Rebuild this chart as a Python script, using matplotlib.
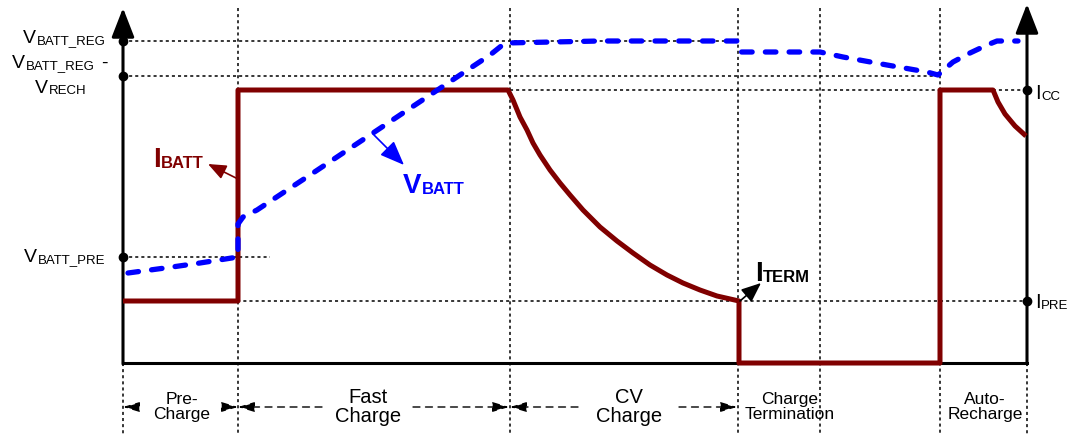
import matplotlib
matplotlib.use('Agg')
import matplotlib.pyplot as plt

plt.rcParams['font.family'] = ['Liberation Sans', 'DejaVu Sans']

# 1. Data (pixel-like units: x = time, y = level, 0 at top) #####################

X_LEFT, X_RIGHT, Y_BASE = 123, 1027, 363
phase_edges = [238, 510, 738, 820, 940]

V_REG, V_RECH, V_PRE = 41, 76, 257
I_CC, I_PRE = 90, 301

# charge current
i_batt_x = [123, 238, 238, 508, 513, 520, 527, 533, 540, 550, 560, 570,
            583, 600, 617, 633, 650, 667, 683, 700, 717, 739,
            739, 940, 940, 993, 998, 1005, 1015, 1026]
i_batt_y = [301, 301, 90, 90, 100, 117, 130, 143, 155, 170, 183, 195,
            210, 227, 241, 253, 265, 275, 283, 290, 296, 301,
            363, 363, 90, 90, 102, 114, 126, 136]

# battery voltage
v_batt_x = [128, 165, 200, 238, 238, 243, 257, 313, 370, 430, 463, 490,
            505, 600, 737, 740, 820, 843, 887, 927, 938, 953, 970, 987,
            997, 1018]
v_batt_y = [273, 268, 263, 257, 224, 217, 210, 173, 135, 95, 73, 55,
            43, 41, 41, 52, 52, 57, 65, 72, 75, 62, 53, 45, 41, 41]

phase_names = ["Pre-\nCharge", "Fast\nCharge", "CV\nCharge",
               "Charge\nTermination", "Auto-\nRecharge"]
phase_centers = [182, 368, 629, 790, 985]
phase_sizes = [12.5, 14.5, 14.5, 12.5, 12.5]

# phase span arrows (tail -> tip)
span_from = [137, 225, 322, 413, 578, 679]
span_to = [123, 238, 238, 509, 510, 737]
Y_SPAN = 407

RED = '#800000'
BLUE = '#0000ff'

# 2. Figure ####################################################################

fig = plt.figure(figsize=(10.67, 4.34), dpi=100)
ax = fig.add_axes([0, 0, 1, 1])
ax.set_xlim(0, 1067)
ax.set_ylim(434, 0)
ax.axis('off')

dot = dict(color='k', lw=1.1, linestyle=(0, (2, 2)), zorder=1)

## - reference lines -----------------------------------------------------------
for y, x0, x1 in [(V_REG, X_LEFT, 738), (V_RECH, X_LEFT, 940),
                  (I_CC, 510, X_RIGHT), (V_PRE, X_LEFT, 270),
                  (I_PRE, 225, X_RIGHT)]:
    ax.plot([x0, x1], [y, y], **dot)
for x in phase_edges:
    ax.plot([x, x], [8, 434], **dot)
for x in [X_LEFT, X_RIGHT]:
    ax.plot([x, x], [Y_BASE, 434], **dot)

## - axes ----------------------------------------------------------------------
for x, tip in [(X_LEFT, 8), (X_RIGHT, 4)]:
    ax.annotate('', xy=(x, tip), xytext=(x, Y_BASE + 1),
                arrowprops=dict(arrowstyle='-|>,head_length=1.8,head_width=0.7',
                                lw=2.2, color='k', shrinkA=0, shrinkB=0,
                                mutation_scale=10), zorder=2)
ax.plot([X_LEFT, X_RIGHT], [Y_BASE, Y_BASE], color='k', lw=2.2,
        solid_capstyle='projecting', zorder=2)

## - curves --------------------------------------------------------------------
ax.plot(i_batt_x, i_batt_y, color=RED, lw=3.6, solid_joinstyle='round',
        solid_capstyle='butt', zorder=3)
ax.plot(v_batt_x, v_batt_y, color=BLUE, lw=3.8, dashes=(2.0, 2.5),
        dash_capstyle='round', zorder=4)

ax.plot([X_LEFT] * 3, [V_REG, V_RECH, V_PRE], 'o', ms=6, color='k', zorder=5)
ax.plot([X_RIGHT] * 2, [I_CC, I_PRE], 'o', ms=6, color='k', zorder=5)


## - labels --------------------------------------------------------------------
def sub_label(x, y, main, sub, size, sub_size, drop=0.15, **kw):
    t = ax.text(x, y, main, fontsize=size, ha='left', va='baseline', **kw)
    ax.annotate(sub, xy=(1, 0), xycoords=t, xytext=(0.3, drop * size),
                textcoords='offset points', fontsize=sub_size, ha='left',
                va='baseline', **kw)


sub_label(23, 43, 'V', 'BATT_REG', 14, 9.5)
sub_label(12, 68, 'V', 'BATT_REG', 14, 9.5)
ax.text(101, 68, '-', fontsize=14, ha='left', va='baseline')
sub_label(35, 93, 'V', 'RECH', 14, 9.5)
sub_label(24, 262, 'V', 'BATT_PRE', 14, 9.5)
sub_label(1035, 99, 'I', 'CC', 14.5, 9.5)
sub_label(1035, 308, 'I', 'PRE', 14.5, 9.5)

sub_label(153, 167, 'I', 'BATT', 20, 12, drop=0.19, color=RED,
          fontweight='bold')
sub_label(403, 193, 'V', 'BATT', 20, 12, drop=0.19, color=BLUE,
          fontweight='bold')
sub_label(755, 281, 'I', 'TERM', 20, 12, drop=0.19, color='k',
          fontweight='bold')

for (x0, y0), (x1, y1), c, hl, hw in [((238, 179), (208, 164), RED, 1.1, 0.45),
                                      ((373, 134), (404, 165), BLUE, 1.5, 0.6),
                                      ((740, 301), (761, 283), 'k', 1.2, 0.5)]:
    ax.annotate('', xy=(x1, y1), xytext=(x0, y0),
                arrowprops=dict(arrowstyle=f'-|>,head_length={hl},head_width={hw}',
                                lw=1.2, color=c, shrinkA=0, shrinkB=0,
                                mutation_scale=10), zorder=6)

## - phases --------------------------------------------------------------------
for name, cx, fs in zip(phase_names, phase_centers, phase_sizes):
    ax.text(cx, 407, name, fontsize=fs, ha='center', va='center',
            linespacing=1.0)

for x0, x1 in zip(span_from, span_to):
    ax.annotate('', xy=(x1, Y_SPAN), xytext=(x0, Y_SPAN),
                arrowprops=dict(arrowstyle='-|>,head_length=1.0,head_width=0.3',
                                lw=1.0, color='k', linestyle=(0, (5, 4)),
                                shrinkA=0, shrinkB=0, mutation_scale=10))

fig.savefig('out.png', dpi=100)
